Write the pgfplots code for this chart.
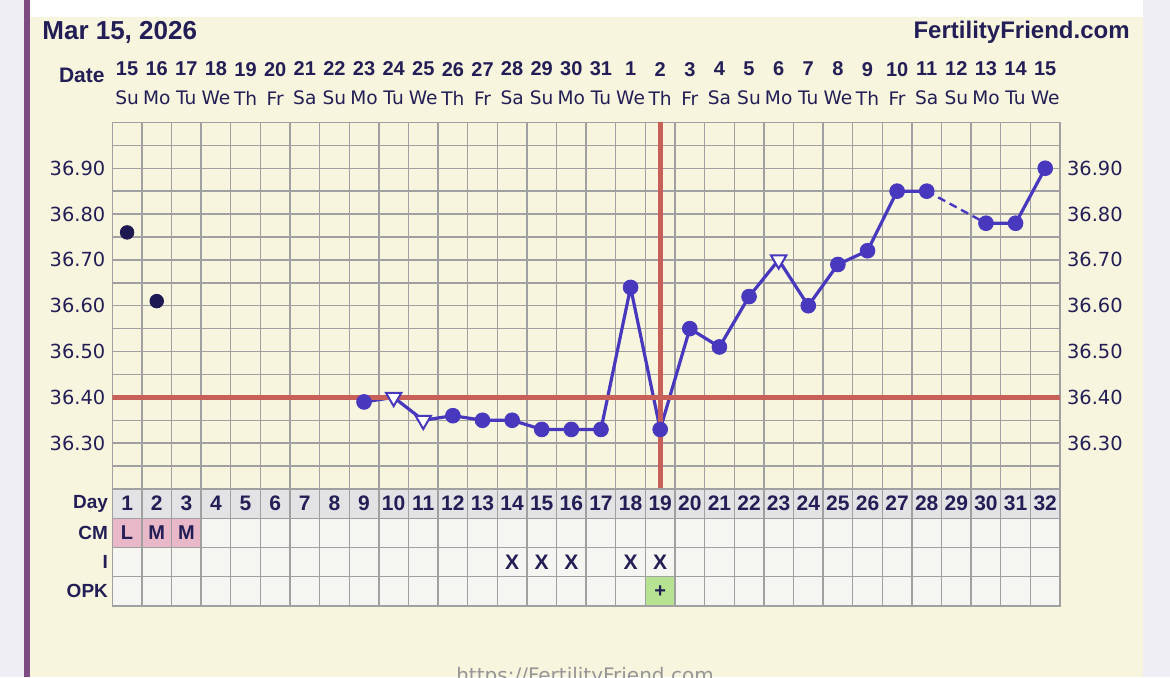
\documentclass[border=0pt]{standalone}
\usepackage{fontspec}
\setmainfont{DejaVu Sans}
\newfontfamily\hb{Liberation Sans}
\usepackage{pgfplots}
\pgfplotsset{compat=1.18}

\definecolor{cream}{RGB}{247,245,222}
\definecolor{lav}{RGB}{239,238,245}
\definecolor{ffpurple}{RGB}{125,74,130}
\definecolor{navy}{RGB}{35,30,85}
\definecolor{temp}{RGB}{72,56,190}
\definecolor{dot}{RGB}{30,25,80}
\definecolor{cover}{RGB}{200,96,90}
\definecolor{gridgray}{RGB}{160,160,160}
\definecolor{cell}{RGB}{245,245,241}
\definecolor{dayrow}{RGB}{227,227,229}
\definecolor{cmpink}{RGB}{232,184,200}
\definecolor{opkgreen}{RGB}{182,226,146}
\definecolor{footgray}{RGB}{150,150,150}

\newcommand{\bnum}[1]{{\hb\bfseries\fontsize{10}{14.5}\selectfont #1}}
\newcommand{\dl}[2]{\bnum{#1}\\#2}

\begin{document}
\begin{tikzpicture}[x=1pt,y=1pt]
\useasboundingbox (0,0) rectangle (585,338.5);
\fill[lav] (0,0) rectangle (585,338.5);
\fill[cream] (15,0) rectangle (571.5,330.1);
\fill[white] (15,330.1) rectangle (571.5,338.5);
\fill[ffpurple] (12,0) rectangle (15,338.5);

\node[anchor=west, inner sep=0pt, text=navy, font=\hb\bfseries\fontsize{13}{15}\selectfont] at (21,322.5) {Mar 15, 2026};
\node[anchor=east, inner sep=0pt, text=navy, font=\hb\bfseries\fontsize{12}{14}\selectfont] at (565,322.5) {FertilityFriend.com};
\node[anchor=east, inner sep=0pt, text=navy, font=\hb\bfseries\fontsize{10.5}{12}\selectfont] at (52.5,301) {Date};

% temperature chart
\begin{axis}[
    at={(56.15pt,94pt)}, anchor=south west, scale only axis,
    width=473.85pt, height=183.3pt,
    xmin=0.5, xmax=32.5, ymin=36.2, ymax=37.0,
    axis background/.style={fill=cream},
    xtick={1,...,32},
    xticklabel pos=upper,
    xticklabels={\dl{15}{Su},\dl{16}{Mo},\dl{17}{Tu},\dl{18}{We},\dl{19}{Th},\dl{20}{Fr},\dl{21}{Sa},
        \dl{22}{Su},\dl{23}{Mo},\dl{24}{Tu},\dl{25}{We},\dl{26}{Th},\dl{27}{Fr},\dl{28}{Sa},
        \dl{29}{Su},\dl{30}{Mo},\dl{31}{Tu},\dl{1}{We},\dl{2}{Th},\dl{3}{Fr},\dl{4}{Sa},
        \dl{5}{Su},\dl{6}{Mo},\dl{7}{Tu},\dl{8}{We},\dl{9}{Th},\dl{10}{Fr},\dl{11}{Sa},
        \dl{12}{Su},\dl{13}{Mo},\dl{14}{Tu},\dl{15}{We}},
    xticklabel style={align=center, inner sep=0pt, text=navy, font=\fontsize{9.3}{14.5}\selectfont},
    xticklabel shift=8.5pt,
    minor xtick={0.5,1.5,...,32.5},
    ytick={36.2,36.3,36.4,36.5,36.6,36.7,36.8,36.9,37.0},
    yticklabels={{},36.30,36.40,36.50,36.60,36.70,36.80,36.90,{}},
    minor y tick num=1,
    yticklabel style={text=navy, font=\fontsize{9.7}{11}\selectfont},
    xmajorgrids=false, xminorgrids=true, ymajorgrids=true, yminorgrids=true,
    major grid style={gridgray, line width=0.7pt},
    minor grid style={gridgray, line width=0.7pt},
    axis line style={gridgray, line width=0.7pt},
    tick style={draw=none},
]
\addplot[temp, line width=1.6pt, line join=round] coordinates {
    (9,36.39)(10,36.40)(11,36.35)(12,36.36)(13,36.35)(14,36.35)(15,36.33)(16,36.33)
    (17,36.33)(18,36.64)(19,36.33)(20,36.55)(21,36.51)(22,36.62)(23,36.70)(24,36.60)
    (25,36.69)(26,36.72)(27,36.85)(28,36.85)};
\addplot[temp, line width=1.2pt, dash pattern=on 4pt off 2.5pt] coordinates {(28,36.85)(30,36.78)};
\addplot[temp, line width=1.6pt, line join=round] coordinates {(30,36.78)(31,36.78)(32,36.90)};
% open triangles
\addplot[only marks, mark=triangle*, mark size=4.4pt,
    mark options={rotate=180, fill=white, draw=temp, line width=1pt}]
    coordinates {(10,36.40)(11,36.35)(23,36.70)};
% coverline and ovulation line
\addplot[cover, line width=2.3pt] coordinates {(0.5,36.4)(32.5,36.4)};
\addplot[cover, line width=2.5pt] coordinates {(19,36.2)(19,37.0)};
\addplot[only marks, mark=*, mark size=3.7pt, temp] coordinates {
    (9,36.39)(12,36.36)(13,36.35)(14,36.35)(15,36.33)(16,36.33)(17,36.33)(18,36.64)
    (19,36.33)(20,36.55)(21,36.51)(22,36.62)(24,36.60)(25,36.69)(26,36.72)(27,36.85)
    (28,36.85)(30,36.78)(31,36.78)(32,36.90)};
\addplot[only marks, mark=*, mark size=3.4pt, dot] coordinates {(1,36.76)(2,36.61)};
\end{axis}

% right-hand temperature labels
\begin{axis}[
    at={(56.15pt,94pt)}, anchor=south west, scale only axis,
    width=473.85pt, height=183.3pt,
    xmin=0.5, xmax=32.5, ymin=36.2, ymax=37.0,
    hide x axis, axis y line*=right,
    y axis line style={draw=none},
    ytick={36.3,36.4,36.5,36.6,36.7,36.8,36.9},
    yticklabels={36.30,36.40,36.50,36.60,36.70,36.80,36.90},
    ytick style={draw=none},
    yticklabel style={text=navy, font=\fontsize{9.7}{11}\selectfont},
]
\end{axis}

% Day / CM / I / OPK table
\begin{axis}[
    at={(56.15pt,35.5pt)}, anchor=south west, scale only axis,
    width=473.85pt, height=58.5pt,
    xmin=0.5, xmax=32.5, ymin=0, ymax=4,
    xtick={0.5,1.5,...,32.5}, xticklabels={},
    ytick={0.5,1.5,2.5,3.5}, yticklabels={OPK,I,CM,Day},
    minor ytick={1,2,3},
    xmajorgrids=true, ymajorgrids=false, yminorgrids=true,
    major grid style={gridgray, line width=0.7pt},
    minor grid style={gridgray, line width=0.7pt},
    axis line style={gridgray, line width=0.7pt},
    tick style={draw=none},
    axis background/.style={fill=cell},
    axis on top,
    yticklabel style={text=navy, font=\hb\bfseries\fontsize{9.5}{11}\selectfont, inner sep=0pt, xshift=-2pt},
]
\addplot[fill=dayrow, draw=none] coordinates {(0.5,3)(32.5,3)(32.5,4)(0.5,4)} -- cycle;
\addplot[fill=cmpink, draw=none] coordinates {(0.5,2)(3.5,2)(3.5,3)(0.5,3)} -- cycle;
\addplot[fill=opkgreen, draw=none] coordinates {(18.5,0)(19.5,0)(19.5,1)(18.5,1)} -- cycle;
\addplot[only marks, mark=text, text mark={L}, text mark as node=true,
    text mark style={text=navy, font=\hb\bfseries\fontsize{10}{12}\selectfont}] coordinates {(1,2.5)};
\addplot[only marks, mark=text, text mark={M}, text mark as node=true,
    text mark style={text=navy, font=\hb\bfseries\fontsize{10}{12}\selectfont}] coordinates {(2,2.5)(3,2.5)};
\addplot[only marks, mark=text, text mark={X}, text mark as node=true,
    text mark style={text=navy, font=\hb\bfseries\fontsize{10.5}{12}\selectfont}]
    coordinates {(14,1.5)(15,1.5)(16,1.5)(18,1.5)(19,1.5)};
\addplot[only marks, mark=text, text mark={+}, text mark as node=true,
    text mark style={text=navy, font=\hb\bfseries\fontsize{10}{12}\selectfont}] coordinates {(19,0.5)};
\pgfplotsinvokeforeach{1,...,32}{
    \node[text=navy, font=\hb\bfseries\fontsize{10.5}{12}\selectfont] at (axis cs:#1,3.5) {#1};
}
\node[anchor=west, inner sep=0pt, xshift=2.5pt, text=navy, font=\hb\bfseries\fontsize{9.5}{11}\selectfont] at (axis cs:32.5,3.5) {Day};
\node[anchor=west, inner sep=0pt, xshift=2.5pt, text=navy, font=\hb\bfseries\fontsize{9.5}{11}\selectfont] at (axis cs:32.5,2.5) {CM};
\node[anchor=west, inner sep=0pt, xshift=2.5pt, text=navy, font=\hb\bfseries\fontsize{9.5}{11}\selectfont] at (axis cs:32.5,1.5) {I};
\node[anchor=west, inner sep=0pt, xshift=2.5pt, text=navy, font=\hb\bfseries\fontsize{9.5}{11}\selectfont] at (axis cs:32.5,0.5) {OPK};
\end{axis}

\node[anchor=north, inner sep=0pt, text=footgray, font=\fontsize{10}{12}\selectfont] at (292.5,5) {https://FertilityFriend.com};
\end{tikzpicture}
\end{document}
